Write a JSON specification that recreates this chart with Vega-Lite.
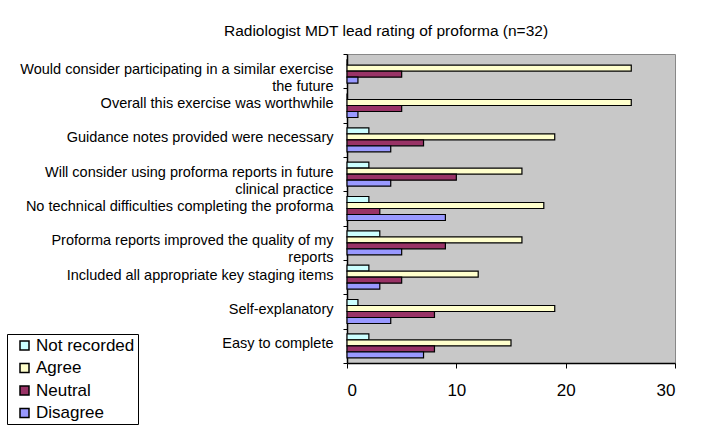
{
  "$schema": "https://vega.github.io/schema/vega-lite/v6.json",
  "width": 328,
  "height": 309,
  "autosize": {"type": "none"},
  "padding": {"left": 347, "top": 54, "right": 28, "bottom": 66},
  "background": "white",
  "title": {
    "text": "Radiologist MDT lead rating of proforma (n=32)",
    "font": "Liberation Sans",
    "fontSize": 15.5,
    "fontWeight": "normal",
    "color": "black",
    "anchor": "middle",
    "dx": -125,
    "offset": 7
  },
  "data": {
    "values": [
      {"question": "Would consider participating in a similar exercise|the future", "response": "Not recorded", "count": 0},
      {"question": "Would consider participating in a similar exercise|the future", "response": "Agree", "count": 26},
      {"question": "Would consider participating in a similar exercise|the future", "response": "Neutral", "count": 5},
      {"question": "Would consider participating in a similar exercise|the future", "response": "Disagree", "count": 1},
      {"question": "Overall this exercise was worthwhile ", "response": "Not recorded", "count": 0},
      {"question": "Overall this exercise was worthwhile ", "response": "Agree", "count": 26},
      {"question": "Overall this exercise was worthwhile ", "response": "Neutral", "count": 5},
      {"question": "Overall this exercise was worthwhile ", "response": "Disagree", "count": 1},
      {"question": "Guidance notes provided were necessary", "response": "Not recorded", "count": 2},
      {"question": "Guidance notes provided were necessary", "response": "Agree", "count": 19},
      {"question": "Guidance notes provided were necessary", "response": "Neutral", "count": 7},
      {"question": "Guidance notes provided were necessary", "response": "Disagree", "count": 4},
      {"question": "Will consider using proforma reports in future|clinical practice", "response": "Not recorded", "count": 2},
      {"question": "Will consider using proforma reports in future|clinical practice", "response": "Agree", "count": 16},
      {"question": "Will consider using proforma reports in future|clinical practice", "response": "Neutral", "count": 10},
      {"question": "Will consider using proforma reports in future|clinical practice", "response": "Disagree", "count": 4},
      {"question": "No technical difficulties completing the proforma", "response": "Not recorded", "count": 2},
      {"question": "No technical difficulties completing the proforma", "response": "Agree", "count": 18},
      {"question": "No technical difficulties completing the proforma", "response": "Neutral", "count": 3},
      {"question": "No technical difficulties completing the proforma", "response": "Disagree", "count": 9},
      {"question": "Proforma reports improved the quality of my|reports", "response": "Not recorded", "count": 3},
      {"question": "Proforma reports improved the quality of my|reports", "response": "Agree", "count": 16},
      {"question": "Proforma reports improved the quality of my|reports", "response": "Neutral", "count": 9},
      {"question": "Proforma reports improved the quality of my|reports", "response": "Disagree", "count": 5},
      {"question": "Included all appropriate key staging items", "response": "Not recorded", "count": 2},
      {"question": "Included all appropriate key staging items", "response": "Agree", "count": 12},
      {"question": "Included all appropriate key staging items", "response": "Neutral", "count": 5},
      {"question": "Included all appropriate key staging items", "response": "Disagree", "count": 3},
      {"question": "Self-explanatory", "response": "Not recorded", "count": 1},
      {"question": "Self-explanatory", "response": "Agree", "count": 19},
      {"question": "Self-explanatory", "response": "Neutral", "count": 8},
      {"question": "Self-explanatory", "response": "Disagree", "count": 4},
      {"question": "Easy to complete", "response": "Not recorded", "count": 2},
      {"question": "Easy to complete", "response": "Agree", "count": 15},
      {"question": "Easy to complete", "response": "Neutral", "count": 8},
      {"question": "Easy to complete", "response": "Disagree", "count": 7}
    ]
  },
  "mark": {"type": "bar", "stroke": "black", "strokeWidth": 1.2},
  "encoding": {
    "y": {
      "field": "question",
      "type": "nominal",
      "sort": null,
      "scale": {"paddingInner": 0, "paddingOuter": 0},
      "axis": {
        "title": null,
        "labelExpr": "split(datum.label, '|')",
        "labelOffset": -2,
        "labelFont": "Liberation Sans",
        "labelFontSize": 14.5,
        "labelColor": "black",
        "labelLineHeight": 17,
        "labelLimit": 400,
        "labelPadding": 10,
        "tickBand": "extent",
        "tickSize": 4,
        "tickColor": "black",
        "domainColor": "black",
        "domainWidth": 1.5
      }
    },
    "yOffset": {
      "field": "response",
      "type": "nominal",
      "sort": ["Not recorded", "Agree", "Neutral", "Disagree"],
      "scale": {"paddingInner": 0, "paddingOuter": 0.86}
    },
    "x": {
      "field": "count",
      "type": "quantitative",
      "scale": {"domain": [0, 30], "nice": false},
      "axis": {
        "title": null,
        "values": [0, 10, 20, 30],
        "grid": false,
        "labelFont": "Liberation Sans",
        "labelFontSize": 17,
        "labelColor": "black",
        "labelPadding": 14,
        "tickSize": 5,
        "tickColor": "black",
        "domainColor": "black",
        "domainWidth": 1.5
      }
    },
    "color": {
      "field": "response",
      "type": "nominal",
      "sort": ["Not recorded", "Agree", "Neutral", "Disagree"],
      "scale": {
        "domain": ["Not recorded", "Agree", "Neutral", "Disagree"],
        "range": ["#ccffff", "#ffffcc", "#993366", "#9999ff"]
      },
      "legend": {
        "title": null,
        "orient": "none",
        "legendX": -340,
        "legendY": 280,
        "padding": 3,
        "symbolOffset": 6,
        "fillColor": "white",
        "strokeColor": "black",
        "labelFont": "Liberation Sans",
        "labelFontSize": 17,
        "labelColor": "black",
        "labelOffset": 3,
        "rowPadding": 4.5,
        "symbolType": "square",
        "symbolSize": 81,
        "symbolStrokeColor": "black",
        "symbolStrokeWidth": 1.5
      }
    }
  },
  "config": {
    "view": {"stroke": "#888888", "fill": "#c8c8c8"}
  }
}
